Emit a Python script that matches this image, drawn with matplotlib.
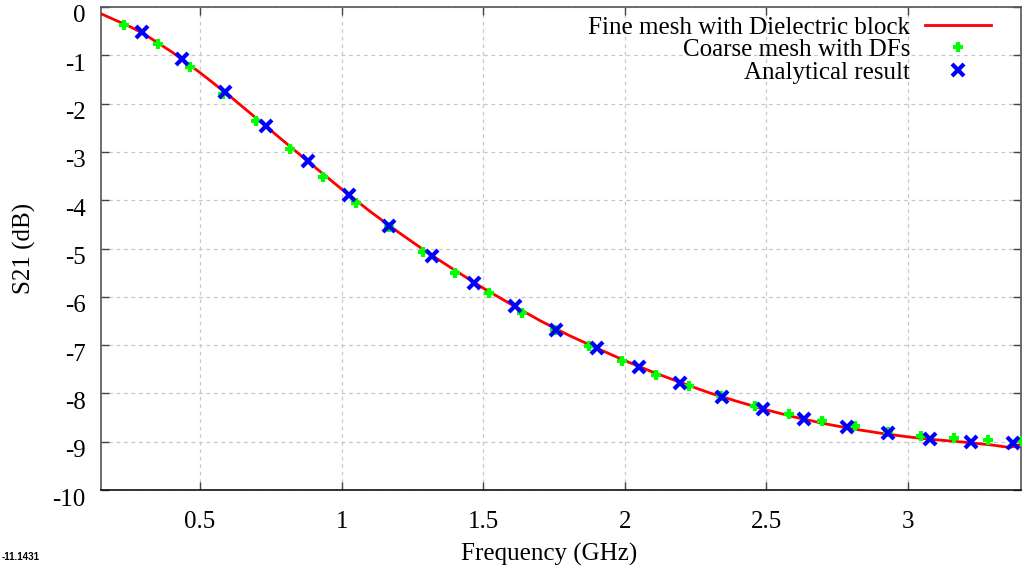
import matplotlib
matplotlib.use("Agg")
import matplotlib.pyplot as plt
import matplotlib.transforms as mtransforms

# Fine mesh with dielectric block (red line)
fine_freq = [0.15, 0.20, 0.25, 0.30, 0.40, 0.50, 0.60, 0.70, 0.80, 0.90, 1.00,
             1.10, 1.20, 1.30, 1.40, 1.50, 1.60, 1.70, 1.80, 1.90, 2.00, 2.10,
             2.20, 2.30, 2.40, 2.50, 2.60, 2.70, 2.80, 2.90, 3.00, 3.10, 3.20,
             3.30, 3.36, 3.40]
fine_s21 = [-0.14, -0.27, -0.40, -0.55, -0.93, -1.36, -1.82, -2.31, -2.80, -3.29, -3.77,
            -4.23, -4.66, -5.07, -5.45, -5.82, -6.16, -6.49, -6.79, -7.06, -7.32, -7.56,
            -7.78, -7.99, -8.17, -8.34, -8.49, -8.62, -8.73, -8.82, -8.90, -8.96, -9.01,
            -9.07, -9.12, -9.06]

# Coarse mesh with DFs (green plus)
coarse_freq = [0.231, 0.350, 0.464, 0.582, 0.699, 0.818, 0.934, 1.052, 1.169, 1.287,
               1.401, 1.522, 1.638, 1.754, 1.874, 1.992, 2.109, 2.228, 2.340, 2.461,
               2.579, 2.696, 2.815, 2.930, 3.048, 3.164, 3.285, 3.403]
coarse_s21 = [-0.37, -0.77, -1.25, -1.80, -2.37, -2.95, -3.51, -4.05, -4.56, -5.07,
              -5.51, -5.93, -6.33, -6.69, -7.02, -7.32, -7.62, -7.84, -8.05, -8.27,
              -8.42, -8.58, -8.68, -8.80, -8.88, -8.93, -8.97, -8.98]

# Analytical result (blue x)
anal_freq = [0.294, 0.437, 0.588, 0.732, 0.880, 1.025, 1.169, 1.321, 1.468, 1.613,
             1.758, 1.903, 2.051, 2.196, 2.345, 2.490, 2.635, 2.785, 2.929, 3.079,
             3.224, 3.370]
anal_s21 = [-0.52, -1.08, -1.77, -2.47, -3.19, -3.89, -4.53, -5.15, -5.71, -6.20,
            -6.68, -7.07, -7.45, -7.78, -8.08, -8.33, -8.54, -8.70, -8.82, -8.94,
            -9.00, -9.02]

x_ticks = [0.5, 1, 1.5, 2, 2.5, 3]
x_tick_labels = ["0.5", "1", "1.5", "2", "2.5", "3"]
y_ticks = [0, -1, -2, -3, -4, -5, -6, -7, -8, -9, -10]

plt.rcParams["font.family"] = ["Liberation Serif", "DejaVu Serif"]
plt.rcParams["axes.unicode_minus"] = False

fig = plt.figure(figsize=(10.26, 5.69), dpi=100)
ax = fig.add_axes([101 / 1026, 1 - 490 / 569, 920 / 1026, 483 / 569])

ax.plot(fine_freq, fine_s21, color="#ff0000", lw=2.0, label="Fine mesh with Dielectric block", zorder=3)
ax.plot(coarse_freq, coarse_s21, ls="none", marker="+", ms=7.5, mew=3, color="#00ff00",
        label="Coarse mesh with DFs", zorder=4)
ax.plot(anal_freq, anal_s21, ls="none", marker="x", ms=8, mew=3, color="#0000ff",
        label="Analytical result", zorder=5)

ax.set_xlim(0.15, 3.4)
ax.set_ylim(-10, 0)
ax.set_xticks(x_ticks)
ax.set_xticklabels(x_tick_labels)
ax.set_yticks(y_ticks)
ax.set_yticklabels([str(v) for v in y_ticks])

ax.grid(True, color="#c8c8c8", ls=(0, (3, 3)), lw=0.9)
ax.tick_params(direction="in", length=6, width=1, top=True, right=True, labelsize=18,
               color="#444444")
ax.tick_params(axis="x", pad=15)
ax.tick_params(axis="y", pad=11)
for sp in ax.spines.values():
    sp.set_color("#555555")
    sp.set_linewidth(1.2)
ax.spines["bottom"].set_color("#111111")

# gnuplot puts the y labels a bit lower than the ticks
offset = mtransforms.ScaledTranslation(0, -7 / 100, fig.dpi_scale_trans)
for lab in ax.get_yticklabels():
    lab.set_transform(lab.get_transform() + offset)

ax.set_ylabel("S21 (dB)", fontsize=18, labelpad=12)
fig.text(549 / 1026, 1 - 554 / 569, "Frequency (GHz)", fontsize=18, ha="center", va="center")
fig.text(2 / 1026, 1 - 557 / 569, "-11.1431", fontsize=7, fontweight="bold",
         family=["Liberation Sans", "DejaVu Sans"], ha="left", va="center")

leg = ax.legend(loc="upper right", bbox_to_anchor=(1 - 20 / 920, 1.0 + 1 / 483), frameon=False,
                markerfirst=False, fontsize=18, handlelength=2.64, handletextpad=0.6,
                labelspacing=0.0, borderaxespad=0.0)

fig.savefig("out.png", dpi=100)
